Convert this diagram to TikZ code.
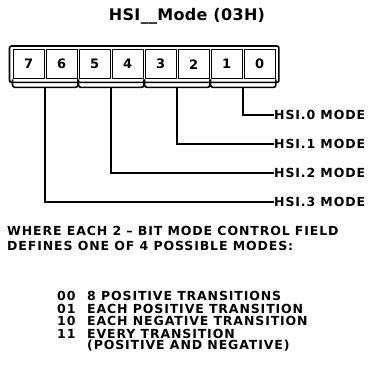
\documentclass[tikz,border=0pt]{standalone}
\usepackage{fontspec}
\usetikzlibrary{fit,calc}
\newfontfamily\lab[LetterSpace=7]{DejaVu Sans}
\newfontfamily\ttl[LetterSpace=2]{DejaVu Sans}
\begin{document}
\begin{tikzpicture}[x=1pt,y=-1pt,
  ln/.style={line width=1.6pt},
  txt/.style={font=\lab\bfseries\fontsize{12.5}{13}\selectfont, inner sep=0pt, anchor=west},
  cell/.style={draw, line width=1.4pt, minimum width=31pt, minimum height=29pt, inner sep=0pt, anchor=north west, font=\lab\bfseries\fontsize{13}{14}\selectfont}]
\useasboundingbox (0,0) rectangle (370,378);
\node[font=\ttl\bfseries\fontsize{16}{17}\selectfont, inner sep=0pt] (title) at (187,16) {HSI\_\_Mode (03H)};
\foreach \k in {0,...,7} {
  \pgfmathtruncatemacro\b{7-\k}
  \node[cell] (c\b) at (12.5+33*\k,49) {\b};
}
\node[draw, ln, rounded corners=2pt, inner sep=3pt, fit=(c7)(c0)] (frame) {};
% brackets under each pair of bits
\foreach \l/\r/\j in {7/6/3,5/4/2,3/2/1,1/0/0} {
  \draw[ln, rounded corners=2.5pt] (c\l.south west) -- ++(0,8) -| (c\r.south east);
  \coordinate (b\j) at ($(c\l.south east)!0.5!(c\r.south west)+(0,8)$);
}
\node[txt] (h0) at (274,115) {HSI.0 MODE};
\node[txt] (h1) at (274,144) {HSI.1 MODE};
\node[txt] (h2) at (274,173) {HSI.2 MODE};
\node[txt] (h3) at (274,202) {HSI.3 MODE};
\foreach \j in {0,...,3} {
  \draw[ln] (b\j) |- (h\j.west);
}
\node[txt] (w1) at (7,231) {WHERE EACH 2 – BIT MODE CONTROL FIELD};
\node[txt] (w2) at (7,246) {DEFINES ONE OF 4 POSSIBLE MODES:};
\node[txt] (m00) at (57,296) {00};
\node[txt] (m01) at (57,308.5) {01};
\node[txt] (m10) at (57,321) {10};
\node[txt] (m11) at (57,333.5) {11};
\node[txt] (t00) at (87,296) {8 POSITIVE TRANSITIONS};
\node[txt] (t01) at (87,308.5) {EACH POSITIVE TRANSITION};
\node[txt] (t10) at (87,321) {EACH NEGATIVE TRANSITION};
\node[txt] (t11) at (87,333.5) {EVERY TRANSITION};
\node[txt] (t11b) at (87,346) {(POSITIVE AND NEGATIVE)};
\end{tikzpicture}
\end{document}
